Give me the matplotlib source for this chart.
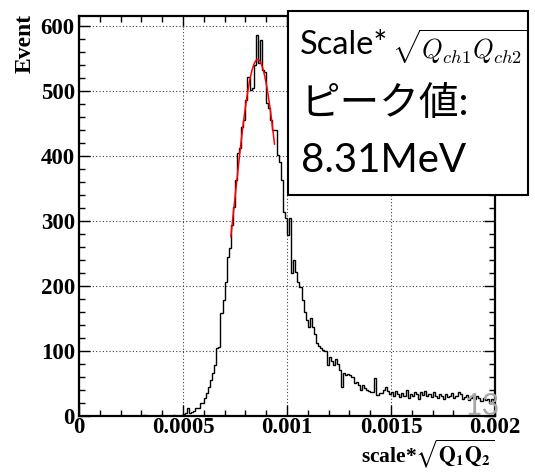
import numpy as np
import matplotlib
matplotlib.use("Agg")
import matplotlib.pyplot as plt
from matplotlib.patches import Rectangle
from matplotlib.ticker import MultipleLocator

# histogram of scale*sqrt(Q1 Q2), 200 bins from 0 to 0.002
x_lo, x_hi, n_bins = 0.0, 0.002, 200
counts = [
    0, 0, 0, 0, 0, 0, 0, 0, 0, 0,
    0, 0, 0, 0, 0, 0, 0, 0, 0, 0,
    0, 0, 0, 0, 0, 0, 0, 0, 0, 0,
    0, 1, 0, 0, 0, 0, 0, 0, 0, 1,
    0, 0, 0, 0, 0, 1, 0, 0, 0, 1,
    2, 4, 12, 4, 5, 8, 12, 12, 20, 20,
    28, 35, 44, 55, 66, 78, 104, 105, 158, 178,
    205, 244, 258, 293, 321, 362, 404, 412, 444, 455,
    486, 521, 501, 504, 540, 586, 543, 578, 532, 529,
    481, 473, 455, 440, 440, 401, 390, 362, 313, 304,
    278, 304, 219, 240, 221, 206, 198, 178, 160, 147,
    136, 150, 137, 125, 112, 108, 104, 101, 100, 78,
    90, 84, 78, 88, 80, 70, 44, 65, 63, 64,
    62, 60, 50, 52, 48, 40, 47, 42, 40, 38,
    37, 37, 58, 32, 35, 35, 40, 44, 38, 34,
    36, 30, 38, 33, 29, 35, 31, 40, 27, 33,
    30, 36, 34, 26, 37, 32, 38, 30, 33, 29,
    36, 31, 28, 34, 30, 25, 33, 29, 31, 35,
    27, 30, 36, 33, 26, 29, 32, 24, 28, 30,
    25, 31, 27, 22, 28, 24, 26, 20, 25, 23,
]

# gaussian fit result
fit_const, fit_mean, fit_sigma = 548.0, 0.000859, 0.00011
fit_lo, fit_hi = 0.00073, 0.00094

xtick_vals = [0, 0.0005, 0.001, 0.0015, 0.002]
xtick_labels = ["0", "0.0005", "0.001", "0.0015", "0.002"]
ytick_vals = [0, 100, 200, 300, 400, 500, 600]

W, H = 535, 472
fig = plt.figure(figsize=(W / 100, H / 100), dpi=100)
ax = fig.add_axes([79 / W, 1 - 415.7 / H, (495 - 79) / W, (415.7 - 16) / H])

edges = np.linspace(x_lo, x_hi, n_bins + 1)
ax.stairs(counts, edges, color="black", lw=1.0, zorder=3)

xf = np.linspace(fit_lo, fit_hi, 200)
ax.plot(xf, fit_const * np.exp(-0.5 * ((xf - fit_mean) / fit_sigma) ** 2),
        color="red", lw=1.1, zorder=4)

ax.set_xlim(x_lo, x_hi)
ax.set_ylim(0, 615)
ax.set_xticks(xtick_vals)
ax.set_xticklabels(xtick_labels)
ax.set_yticks(ytick_vals)
ax.xaxis.set_minor_locator(MultipleLocator(0.0001))
ax.yaxis.set_minor_locator(MultipleLocator(20))
ax.tick_params(which="both", direction="in", top=True, right=True, width=1)
ax.tick_params(which="major", length=8)
ax.tick_params(which="minor", length=4.5)
ax.tick_params(axis="x", pad=1)
ax.tick_params(axis="y", pad=3)
for lab in ax.get_xticklabels() + ax.get_yticklabels():
    lab.set_fontfamily("Liberation Serif")
    lab.set_fontweight("bold")
    lab.set_fontsize(16.5)
ax.grid(True, which="major", color="0.25", linestyle=(0, (1, 2)), lw=0.8)
ax.set_axisbelow(True)
for sp in ax.spines.values():
    sp.set_linewidth(1.6)

fig.text(25 / W, 1 - 14 / H, "Event", rotation=90, ha="center", va="top",
         family="Liberation Serif", fontweight="bold", fontsize=17)
fig.text(495 / W, 2 / H, r"scale*$\sqrt{\mathbf{Q_1Q_2}}$",
         ha="right", va="bottom", family="Liberation Serif",
         fontweight="bold", fontsize=15.5, math_fontfamily="stix")

# annotation box
box = Rectangle((288 / W, 1 - 195 / H), (528 - 288) / W, (195 - 11) / H,
                transform=fig.transFigure, facecolor="white",
                edgecolor="black", lw=1.5, zorder=5)
fig.add_artist(box)
sans = ["Lato", "Noto Sans CJK JP"]
fig.text(300 / W, 1 - 45 / H, "Scale*", ha="left", va="center",
         family=sans, fontsize=23.5, zorder=6)
fig.text(392 / W, 1 - 47 / H, r"$\sqrt{Q_{ch1}Q_{ch2}}$", ha="left",
         va="center", fontsize=19, math_fontfamily="cm", zorder=6)
fig.text(301 / W, 1 - 104 / H, "ピーク値:", ha="left", va="center",
         family=sans, fontsize=28.5, zorder=6)
fig.text(301 / W, 1 - 160 / H, "8.31MeV", ha="left", va="center",
         family=sans, fontsize=29, zorder=6)

fig.text(482 / W, 1 - 406 / H, "13", ha="center", va="center",
         family=sans, fontsize=22, color="#a6a6a6", zorder=6)

fig.savefig("out.png", dpi=100)
